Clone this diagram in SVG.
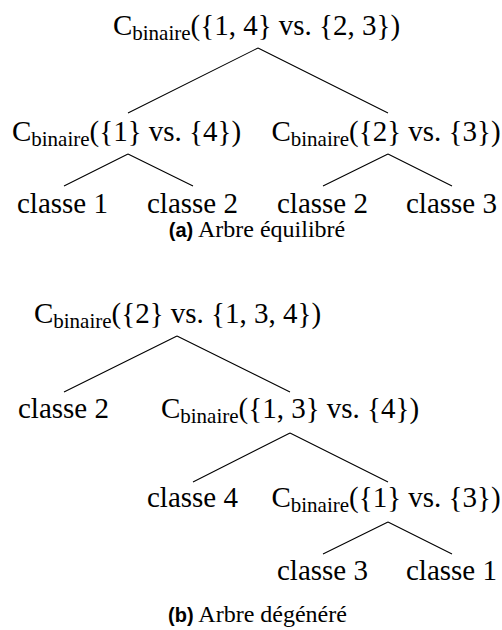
<svg xmlns="http://www.w3.org/2000/svg" width="502" height="630" viewBox="0 0 502 630" font-family="'Liberation Serif', 'Times New Roman', 'DejaVu Serif', serif">
<style>
text{font-family:'Liberation Serif','Times New Roman','DejaVu Serif',serif}
.t{font-size:29px;fill:#000;text-anchor:middle}
.sub{font-size:21px}
.cap{font-size:24px;fill:#000;text-anchor:middle}
.lab{font-family:'Liberation Sans','DejaVu Sans',sans-serif;font-weight:bold;font-size:20px}
.e{stroke:#000;stroke-width:1.1;fill:none}
</style>
<rect width="502" height="630" fill="#fff"/>
<g id="connectors">
<path class="e" d="M258,48 L128,113 M258,48 L388,113"/>
<path class="e" d="M128,154 L64,186 M128,154 L193,186"/>
<path class="e" d="M388,154 L323,186 M388,154 L452,186"/>
<path class="e" d="M177,336 L64,392 M177,336 L290,392"/>
<path class="e" d="M290,433 L193,482 M290,433 L388,482"/>
<path class="e" d="M388,522 L323,554 M388,522 L452,554"/>
</g>
<g id="a-root"><text class="t" x="256.5" y="35" font-family="'Liberation Serif', serif">C<tspan class="sub" dy="5">binaire</tspan><tspan dy="-5">({1, 4} vs. {2, 3})</tspan></text></g>
<g id="a-left"><text class="t" x="126.5" y="141" font-family="'Liberation Serif', serif">C<tspan class="sub" dy="5">binaire</tspan><tspan dy="-5">({1} vs. {4})</tspan></text></g>
<g id="a-right"><text class="t" x="386" y="141" font-family="'Liberation Serif', serif">C<tspan class="sub" dy="5">binaire</tspan><tspan dy="-5">({2} vs. {3})</tspan></text></g>
<g id="a-leaf1"><text class="t" x="62.5" y="213" font-family="'Liberation Serif', serif">classe 1</text></g>
<g id="a-leaf2"><text class="t" x="192.5" y="213" font-family="'Liberation Serif', serif">classe 2</text></g>
<g id="a-leaf3"><text class="t" x="322.5" y="213" font-family="'Liberation Serif', serif">classe 2</text></g>
<g id="a-leaf4"><text class="t" x="451.5" y="213" font-family="'Liberation Serif', serif">classe 3</text></g>
<g id="caption-a"><text class="cap" x="257" y="237" font-family="'Liberation Serif', serif"><tspan class="lab">(a)</tspan> Arbre équilibré</text></g>
<g id="b-root"><text class="t" x="177.5" y="323" font-family="'Liberation Serif', serif">C<tspan class="sub" dy="5">binaire</tspan><tspan dy="-5">({2} vs. {1, 3, 4})</tspan></text></g>
<g id="b-leaf2"><text class="t" x="63.5" y="418" font-family="'Liberation Serif', serif">classe 2</text></g>
<g id="b-n2"><text class="t" x="290" y="418" font-family="'Liberation Serif', serif">C<tspan class="sub" dy="5">binaire</tspan><tspan dy="-5">({1, 3} vs. {4})</tspan></text></g>
<g id="b-leaf4"><text class="t" x="192.5" y="507" font-family="'Liberation Serif', serif">classe 4</text></g>
<g id="b-n3"><text class="t" x="386" y="507" font-family="'Liberation Serif', serif">C<tspan class="sub" dy="5">binaire</tspan><tspan dy="-5">({1} vs. {3})</tspan></text></g>
<g id="b-leaf3"><text class="t" x="322.5" y="580" font-family="'Liberation Serif', serif">classe 3</text></g>
<g id="b-leaf1"><text class="t" x="451.5" y="580" font-family="'Liberation Serif', serif">classe 1</text></g>
<g id="caption-b"><text class="cap" x="257.5" y="622" font-family="'Liberation Serif', serif"><tspan class="lab">(b)</tspan> Arbre dégénéré</text></g>
</svg>
